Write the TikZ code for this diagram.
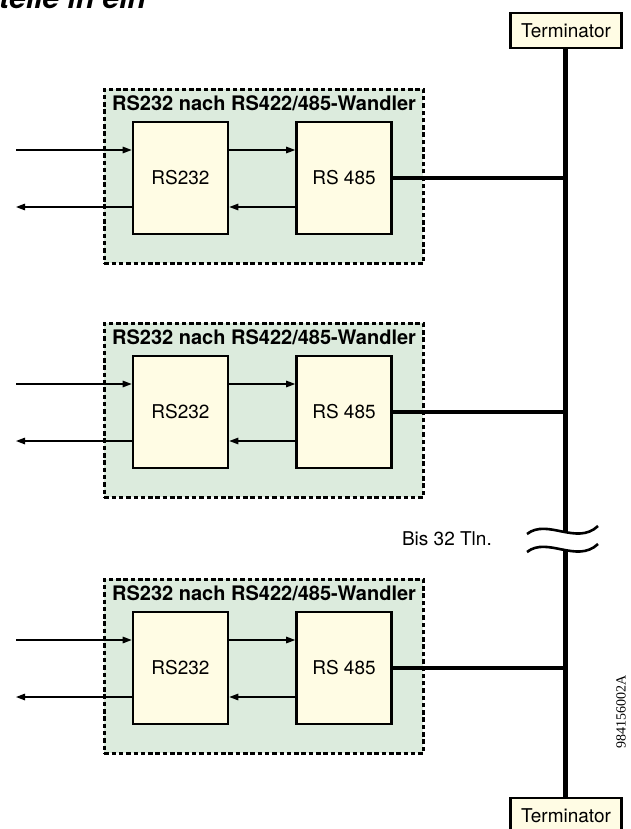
\documentclass[tikz,border=0pt]{standalone}
\usepackage{fontspec}
\setmainfont{TeX Gyre Heros}
\newfontfamily\codefont{Liberation Serif}
\usepackage{tikz}
\usetikzlibrary{arrows.meta,positioning,calc}
\usepackage{xcolor}
\definecolor{wandlergreen}{RGB}{220,235,221}
\definecolor{unitcream}{RGB}{255,252,228}

\begin{document}
\begin{tikzpicture}[x=1pt, y=-1pt,
  wandler/.style={draw, dashed, dash pattern=on 4.5pt off 2.8pt, line width=2.6pt, fill=wandlergreen,
    anchor=north west, minimum width=319pt, minimum height=174pt, inner sep=0pt},
  wtitle/.style={font=\fontsize{20}{23}\selectfont\bfseries, inner sep=0pt, anchor=west},
  unit/.style={draw, line width=2.6pt, fill=unitcream, minimum width=95pt, minimum height=112pt,
    font=\fontsize{19}{22}\selectfont},
  term/.style={draw, line width=2.2pt, fill=unitcream, minimum width=111pt, minimum height=35pt,
    font=\fontsize{19}{22}\selectfont},
  sig/.style={-{Triangle[length=9pt,width=6.5pt]}, line width=1.3pt},
  stub/.style={line width=3.8pt},
  bus/.style={line width=5pt},
  wave/.style={line width=2.6pt}
]
\useasboundingbox (0,0) rectangle (630,829);
% Ueberschrift (angeschnitten)
\node[font=\fontsize{30}{34}\selectfont\bfseries\itshape, inner sep=0pt, anchor=base east] (head) at (146,9) {telle in ein};
% Bus mit Terminatoren
\coordinate (bus) at (565,0);
\node[term] (ttop) at (566,30.5) {Terminator};
\node[term] (tbot) at (566,815.5) {Terminator};
\coordinate (brkA) at (565,531);
\coordinate (brkB) at (565,549);
\draw[bus] (ttop.south -| bus) -- (brkA);
\draw[bus] (brkB) -- (tbot.north -| bus);
\draw[wave] ($(brkA)+(-38,3)$) .. controls ($(brkA)+(-18,-13)$) and ($(brkA)+(12,15)$) .. ($(brkA)+(33,-5)$);
\draw[wave] ($(brkB)+(-38,3)$) .. controls ($(brkB)+(-18,-13)$) and ($(brkB)+(12,15)$) .. ($(brkB)+(33,-5)$);
\node[font=\fontsize{19}{22}\selectfont, anchor=east, inner sep=0pt] (tln) at (492,539) {Bis 32 Tln.};
% Wandler
\foreach \i/\t in {1/88, 2/322, 3/578} {
  \node[wandler] (w\i) at (103,\t) {};
  \node[wtitle] (t\i) at (112,\t+15) {RS232 nach RS422/485-Wandler};
  \node[unit] (r\i) at (180.5,\t+90) {RS232};
  \node[unit] (p\i) at (344,\t+90) {RS 485};
  \coordinate (in\i) at (16,\t+62);
  \coordinate (out\i) at (16,\t+119);
  \draw[sig] (in\i) -- (in\i -| r\i.west);
  \draw[sig] (out\i -| r\i.west) -- (out\i);
  \draw[sig] (in\i -| r\i.east) -- (in\i -| p\i.west);
  \draw[sig] (out\i -| p\i.west) -- (out\i -| r\i.east);
  \draw[stub] (p\i.east) -- (p\i.east -| bus);
}
\node[font=\codefont\fontsize{14}{16}\selectfont, rotate=90, inner sep=0pt] (code) at (621,712) {984156002A};
\end{tikzpicture}
\end{document}
